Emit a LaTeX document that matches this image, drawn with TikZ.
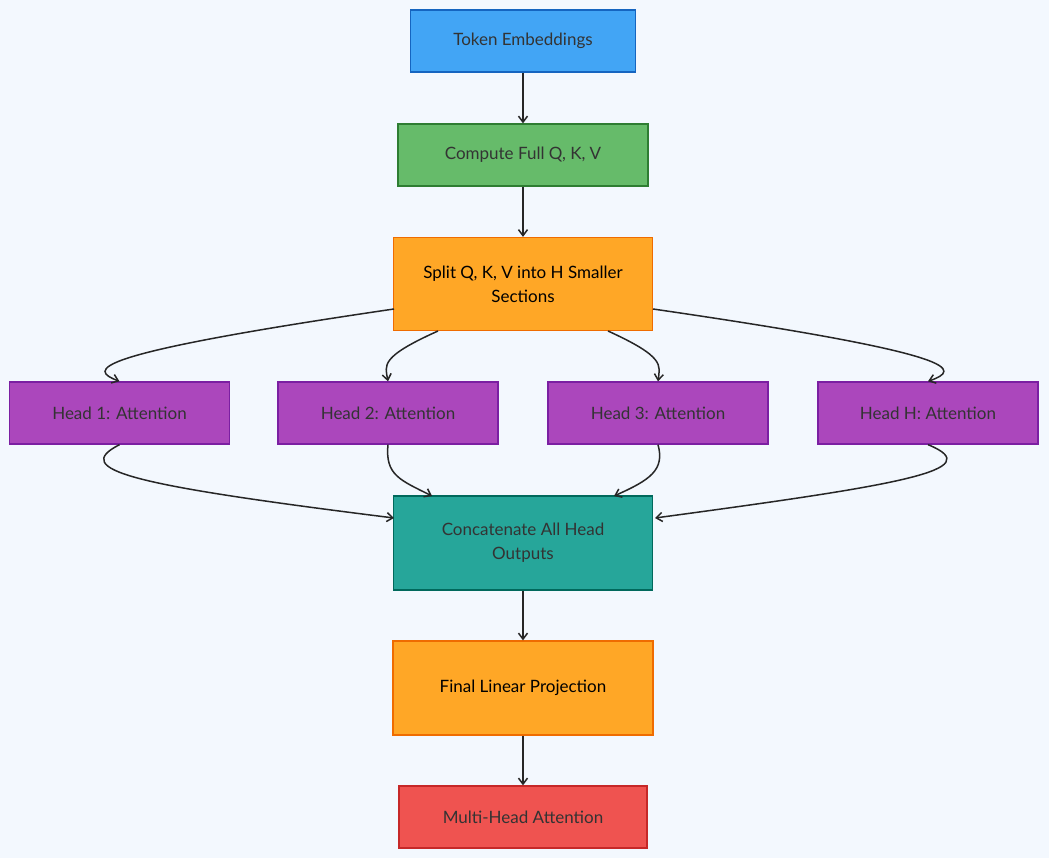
\documentclass[tikz,border=0pt]{standalone}
\usepackage{fontspec}
\setmainfont{Lato}
\usetikzlibrary{arrows.meta}
\definecolor{bg}{HTML}{F3F8FE}
\definecolor{txt}{HTML}{333333}
\definecolor{bluef}{HTML}{42A5F5}\definecolor{blued}{HTML}{1565C0}
\definecolor{greenf}{HTML}{66BB6A}\definecolor{greend}{HTML}{2E7D32}
\definecolor{orf}{HTML}{FFA726}\definecolor{ord}{HTML}{EF6C00}
\definecolor{puf}{HTML}{AB47BC}\definecolor{pud}{HTML}{7B1FA2}
\definecolor{tef}{HTML}{26A69A}\definecolor{ted}{HTML}{00695C}
\definecolor{ref}{HTML}{EF5350}\definecolor{red2}{HTML}{C62828}
\begin{document}
\begin{tikzpicture}[x=1pt,y=-1pt,
 box/.style={draw,line width=1.3pt,minimum width=#1,align=center,font=\fontsize{17}{24}\selectfont,text=txt,inner sep=0},
 arr/.style={draw=black!85,line width=1.5pt,-{Straight Barb[length=6pt,width=9pt]}}]
\fill[bg] (0,0) rectangle (1049,858);
\useasboundingbox (0,0) rectangle (1049,858);
\node[box=225pt,minimum height=62pt,fill=bluef,draw=blued] (te) at (523,41) {Token Embeddings};
\node[box=250pt,minimum height=62pt,fill=greenf,draw=greend] (cq) at (523,155) {Compute Full Q, K, V};
\node[box=259pt,minimum height=93pt,fill=orf,draw=ord,text=black] (sp) at (523,284) {Split Q, K, V into H Smaller\\Sections};
\foreach \n/\x/\t in {h1/119.5/Head 1, h2/388/Head 2, h3/658/Head 3, hh/928/Head H}
  \node[box=220pt,minimum height=62pt,fill=puf,draw=pud] (\n) at (\x,413) {\t: Attention};
\node[box=259pt,minimum height=94pt,fill=tef,draw=ted] (cc) at (523,543) {Concatenate All Head\\Outputs};
\node[box=260pt,minimum height=94pt,fill=orf,draw=ord,text=black] (fl) at (523,688) {Final Linear Projection};
\node[box=248pt,minimum height=62pt,fill=ref,draw=red2] (mh) at (523,817) {Multi-Head Attention};
\coordinate (s1) at (394,309);
\coordinate (s2) at (438,331);
\coordinate (s3) at (608,331);
\coordinate (s4) at (653,309);
\coordinate (c1) at (394,518);
\coordinate (c2) at (432,496);
\coordinate (c3) at (614,496);
\coordinate (c4) at (655,518);
\draw[arr] (te) -- (cq);
\draw[arr] (cq) -- (sp);
\draw[arr] (s1) .. controls (80,355) and (90,370) .. (h1.north);
\draw[arr] (s2) .. controls (380,357) and (385,365) .. (h2.north);
\draw[arr] (s3) .. controls (665,357) and (660,365) .. (h3.north);
\draw[arr] (s4) .. controls (970,355) and (960,370) .. (hh.north);
\draw[arr] (h1.south) .. controls (70,470) and (130,485) .. (c1);
\draw[arr] (h2.south) .. controls (385,475) and (400,480) .. (c2);
\draw[arr] (h3.south) .. controls (665,470) and (650,480) .. (c3);
\draw[arr] (hh.south) .. controls (990,470) and (900,485) .. (c4);
\draw[arr] (cc) -- (fl);
\draw[arr] (fl) -- (mh);
\end{tikzpicture}
\end{document}
